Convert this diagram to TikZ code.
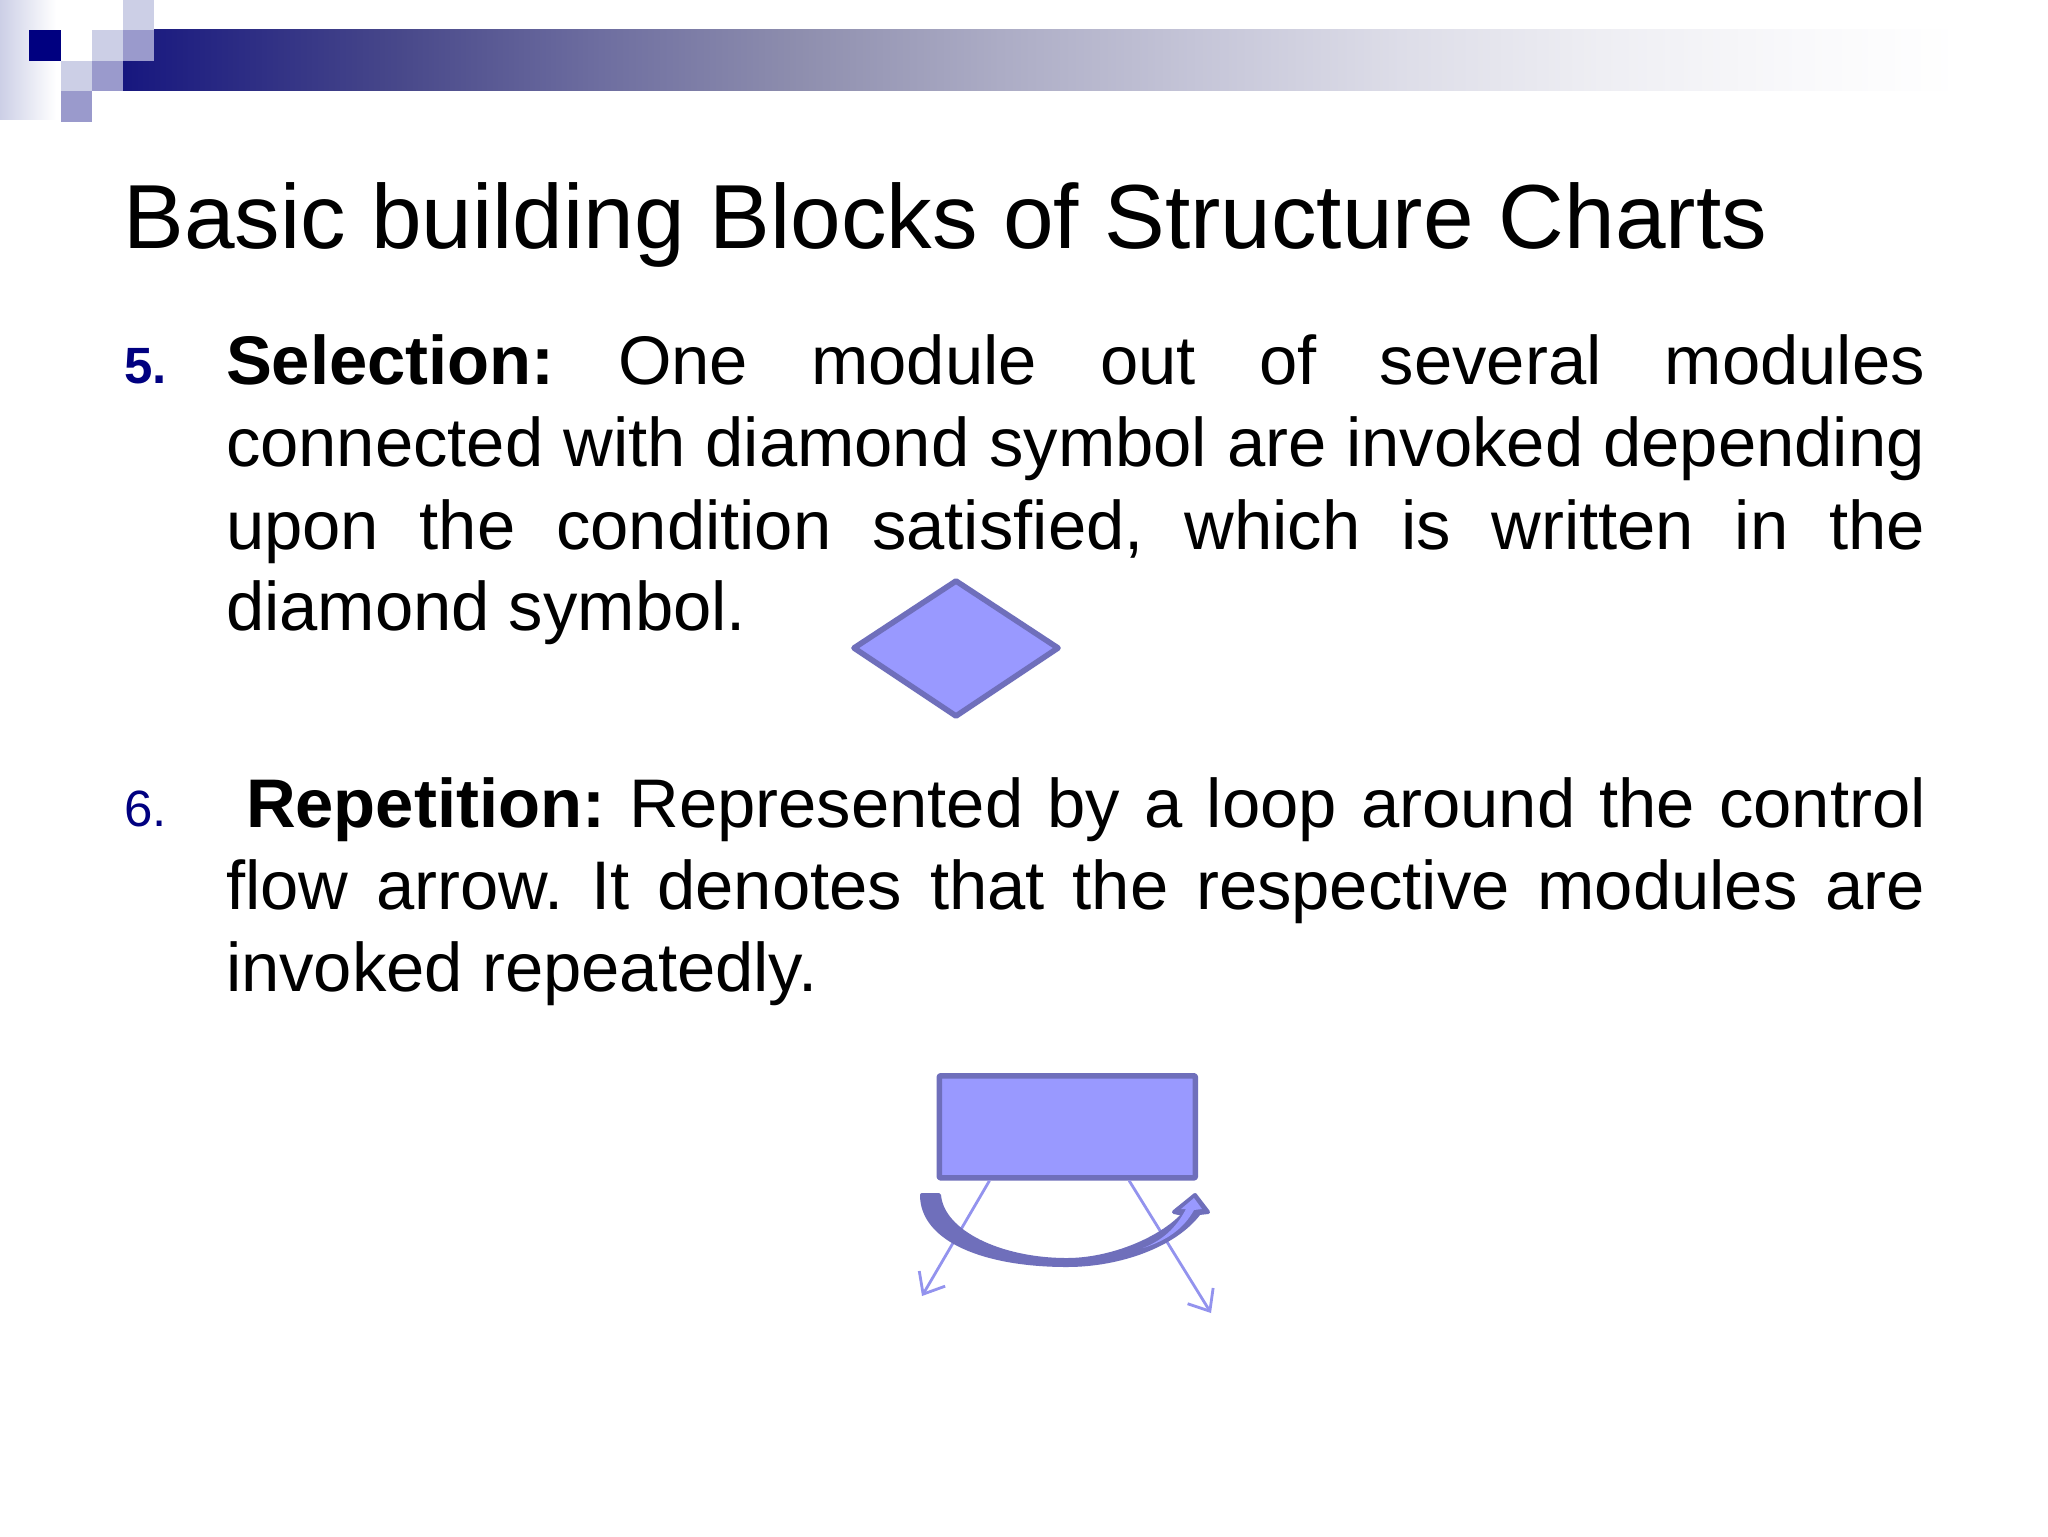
\documentclass[tikz,border=0pt]{standalone}
\usepackage{fontspec}
\setmainfont{Liberation Sans}
\usetikzlibrary{arrows.meta}
\definecolor{navyb}{HTML}{000080}
\definecolor{sqL}{HTML}{CCCFE6}
\definecolor{sqM}{HTML}{9A9ACC}
\definecolor{shfill}{HTML}{9999FF}
\definecolor{shline}{HTML}{6F6FBB}
\definecolor{conn}{HTML}{9393EE}
\pgfdeclarehorizontalshading{barshade}{100bp}{
 rgb(0bp)=(.09,.09,.498);
 rgb(25bp)=(.09,.09,.498);
 rgb(32.5bp)=(.282,.282,.541);
 rgb(38bp)=(.431,.431,.627);
 rgb(43.4bp)=(.557,.557,.682);
 rgb(48.9bp)=(.675,.675,.773);
 rgb(54.3bp)=(.773,.773,.847);
 rgb(59.8bp)=(.867,.867,.91);
 rgb(65.2bp)=(.933,.933,.953);
 rgb(70.6bp)=(.976,.976,.984);
 rgb(75bp)=(1,1,1);
 rgb(100bp)=(1,1,1)}
\newcommand{\bodyline}[3]{\node[linetxt] (#1) at (226,#2) {\makebox[849.5pt][s]{#3}};}
\tikzset{
 x=0.5pt,y=-0.5pt,
 linetxt/.style={anchor=base west,inner sep=0,outer sep=0,font=\fontsize{34.4}{40}\selectfont},
 bullet/.style={anchor=base west,inner sep=0,outer sep=0,text=navyb,font=\fontsize{25.5}{30}\selectfont},
 shp/.style={fill=shfill,draw=shline,line width=2.8pt,line join=round},
 conn arrow/.style={draw=conn,line width=1.4pt,-{Straight Barb[length=9pt,width=15pt,line width=1.4pt]}},
}
\begin{document}
\frenchspacing
\begin{tikzpicture}
\useasboundingbox (0,0) rectangle (2048,1536);
\fill[white] (0,0) rectangle (2048,1536);
% header
\shade[left color=sqL,right color=white] (0,0) rectangle (56,119);
\shade[shading=barshade] (123,30) rectangle (1960,91);
\fill[sqL] (123,0) rectangle (154,30);
\fill[sqM] (123,30) rectangle (154,61);
\fill[sqL] (92,30) rectangle (123,61);
\fill[navyb] (29,30) rectangle (61,61);
\fill[sqL] (61,61) rectangle (92,91);
\fill[sqM] (92,61) rectangle (123,91);
\fill[sqM] (61,91) rectangle (92,122);
% title
\node[anchor=base west,inner sep=0,font=\fontsize{45.5}{50}\selectfont] (title) at (123,248) {Basic building Blocks of Structure Charts};
% item 5
\node[bullet,font=\bfseries\fontsize{25.5}{30}\selectfont] (n5) at (124,383) {5.};
\bodyline{l1}{384}{\textbf{Selection:} One module out of several modules}
\bodyline{l2}{466}{connected with diamond symbol are invoked depending}
\bodyline{l3}{549}{upon the condition satisfied, which is written in the}
\node[linetxt] (l4) at (226,630) {diamond symbol.};
% item 6
\node[bullet] (n6) at (124,826) {6.};
\node[linetxt] (l5) at (246,827) {\makebox[840pt][s]{\textbf{Repetition:} Represented by a loop around the control}};
\bodyline{l6}{909}{flow arrow. It denotes that the respective modules are}
\node[linetxt] (l7) at (226,991) {invoked repeatedly.};
% diamond
\draw[shp] (956,581) -- (1058,648) -- (956,716) -- (854,648) -- cycle;
% rectangle with connectors
\node[shp,anchor=north west,minimum width=128pt,minimum height=51pt,inner sep=0,rounded corners=0.5pt] (box) at (936.5,1073) {};
\coordinate (a1) at (922,1296);
\coordinate (a2) at (1211,1313);
\draw[conn arrow] (box.south west)++(53,0) -- (a1);
\draw[conn arrow] (box.south east)++(-69,0) -- (a2);
% curved block arrow
\fill[shline,draw=shline,line width=2pt,line join=round]
 (922,1195) -- (939,1195)
 .. controls (942,1232) and (1000,1260) .. (1067,1260)
 .. controls (1110,1260) and (1160,1240) .. (1184,1214)
 -- (1174,1212) -- (1195,1195) -- (1208,1212) -- (1199,1213)
 .. controls (1175,1245) and (1120,1265) .. (1067,1265)
 .. controls (985,1265) and (922,1240) .. (922,1195) -- cycle;
\fill[shfill] (1143,1248) .. controls (1163,1240) and (1176,1228) .. (1186,1209)
 -- (1181,1209) -- (1194,1198) -- (1202,1209) -- (1194,1210)
 .. controls (1184,1228) and (1168,1240) .. (1143,1248) -- cycle;
\end{tikzpicture}
\end{document}
